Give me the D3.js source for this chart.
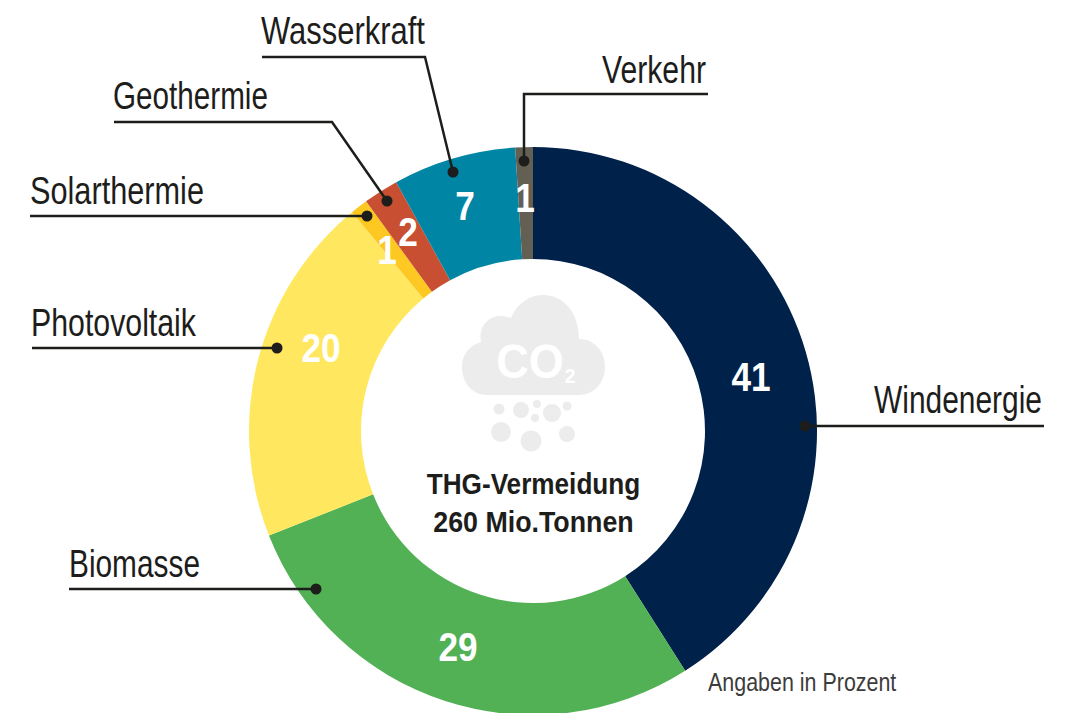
<!DOCTYPE html>
<html lang="de">
<head>
    <meta charset="UTF-8">
    <title>THG-Vermeidung</title>
    <script src="https://d3js.org/d3.v7.min.js"></script>
    <style>
        html, body { margin: 0; padding: 0; background: #fff; overflow: hidden; }
        svg { display: block; }
        text { font-family: "Liberation Sans", sans-serif; }
        .name { font-size: 38px; fill: #1d1d1b; }
        .value { font-size: 40px; font-weight: bold; fill: #fff; text-anchor: middle; }
        .leader { fill: none; stroke: #1d1d1b; stroke-width: 2.5px; }
        .center { font-size: 30px; font-weight: bold; fill: #1d1d1b; text-anchor: middle; }
        .note { font-size: 25px; fill: #3c3c3b; }
    </style>
</head>
<body>
<div id="chart"></div>
<script>
// going clockwise from 12 o'clock
const categories = ["Windenergie", "Biomasse", "Photovoltaik", "Solarthermie", "Geothermie", "Wasserkraft", "Verkehr"];
const printedValues = [41, 29, 20, 1, 2, 7, 1];
// the printed numbers add up to 101, the slice edges read as 100 with Biomasse at 28
const sliceShares = [41, 28, 20, 1, 2, 7, 1];
const colors = ["#002149", "#52b154", "#ffe85f", "#fdc821", "#c94f32", "#0085a5", "#635f52"];

// layout only: number spot, label start and width, leader line
const valuePos = [[751, 377], [458, 647], [321, 348], [387, 250], [408, 232], [465, 206], [525, 198]];
const labelPos = [[874, 413], [69, 577], [31, 336], [30, 204], [113, 109], [261, 44], [602, 83]];
const labelWidth = [168, 131, 165, 174, 155, 164, 104];
const leaders = [
    [[805, 426], [1044, 426]],
    [[316, 589], [69, 589]],
    [[277, 348], [32, 348]],
    [[367, 216], [30, 216]],
    [[387, 201], [332, 122], [114, 122]],
    [[453, 172], [425, 57], [262, 57]],
    [[524, 161], [524, 94], [708, 94]]
];

const width = 1068, height = 713;
const cx = 533, cy = 431, outerR = 284, innerR = 172;
// Liberation has no narrow cut here, so the text gets squeezed to the condensed look
const valueSqueeze = 0.88, noteSqueeze = 0.858;

const svg = d3.select("#chart").append("svg")
    .attr("width", width)
    .attr("height", height);

const slices = categories.map((c, i) => ({ name: c, share: sliceShares[i], color: colors[i] }));
const pie = d3.pie().sort(null).value(d => d.share);
const arc = d3.arc().innerRadius(innerR).outerRadius(outerR);

svg.append("g")
    .attr("transform", "translate(" + cx + "," + cy + ")")
    .selectAll("path")
    .data(pie(slices))
    .enter().append("path")
    .attr("d", arc)
    .attr("fill", d => d.data.color);

function squeezed(x, y, s) {
    return "translate(" + x + "," + y + ") scale(" + s + ",1)";
}

// cloud icon in the middle of the ring
const icon = svg.append("g").attr("fill", "#ececec");
icon.append("path")
    .attr("d", "M487 395 C470 395 462 380 462 367 C462 354 470 345 481 342 C478 325 490 316 500 316 C505 316 508 317 511 318 C517 303 530 295 543 295 C564 295 579 313 579 339 C595 339 605 352 605 367 C605 382 595 395 578 395 Z");
icon.selectAll("circle")
    .data([[499, 409, 5.5], [521, 410, 8], [537, 404, 4], [552, 413, 9], [535, 418, 4], [567, 406, 4.5], [501, 432, 10], [531, 441, 10.5], [567, 434, 8]])
    .enter().append("circle")
    .attr("cx", d => d[0])
    .attr("cy", d => d[1])
    .attr("r", d => d[2]);
svg.append("text")
    .attr("transform", squeezed(530, 378, 0.92))
    .attr("text-anchor", "middle")
    .style("font-size", "49px").style("font-weight", "bold").attr("fill", "#fff").text("CO");
svg.append("text")
    .attr("transform", squeezed(570, 383, 0.95))
    .attr("text-anchor", "middle")
    .style("font-size", "21px").style("font-weight", "bold").attr("fill", "#fff").text("2");

// leader lines with their dots
const line = d3.line();
svg.append("g").selectAll("path")
    .data(leaders)
    .enter().append("path")
    .attr("class", "leader")
    .attr("d", d => line(d));
svg.append("g").selectAll("circle")
    .data(leaders)
    .enter().append("circle")
    .attr("cx", d => d[0][0])
    .attr("cy", d => d[0][1])
    .attr("r", 5.5)
    .attr("fill", "#1d1d1b");

svg.append("g").selectAll("text")
    .data(categories)
    .enter().append("text")
    .attr("class", "name")
    .text(d => d)
    .attr("transform", function(d, i) {
        return squeezed(labelPos[i][0], labelPos[i][1], labelWidth[i] / this.getComputedTextLength());
    });

svg.append("g").selectAll("text")
    .data(printedValues)
    .enter().append("text")
    .attr("class", "value")
    .attr("transform", (d, i) => squeezed(valuePos[i][0], valuePos[i][1] + 14, valueSqueeze))
    .text(d => d);

svg.append("text").attr("class", "center").attr("transform", squeezed(533.5, 494, 0.872)).text("THG-Vermeidung");
svg.append("text").attr("class", "center").attr("transform", squeezed(533.5, 532, 0.893)).text("260 Mio.Tonnen");
svg.append("text").attr("class", "note").attr("transform", squeezed(708, 691, noteSqueeze)).text("Angaben in Prozent");
</script>
</body>
</html>
